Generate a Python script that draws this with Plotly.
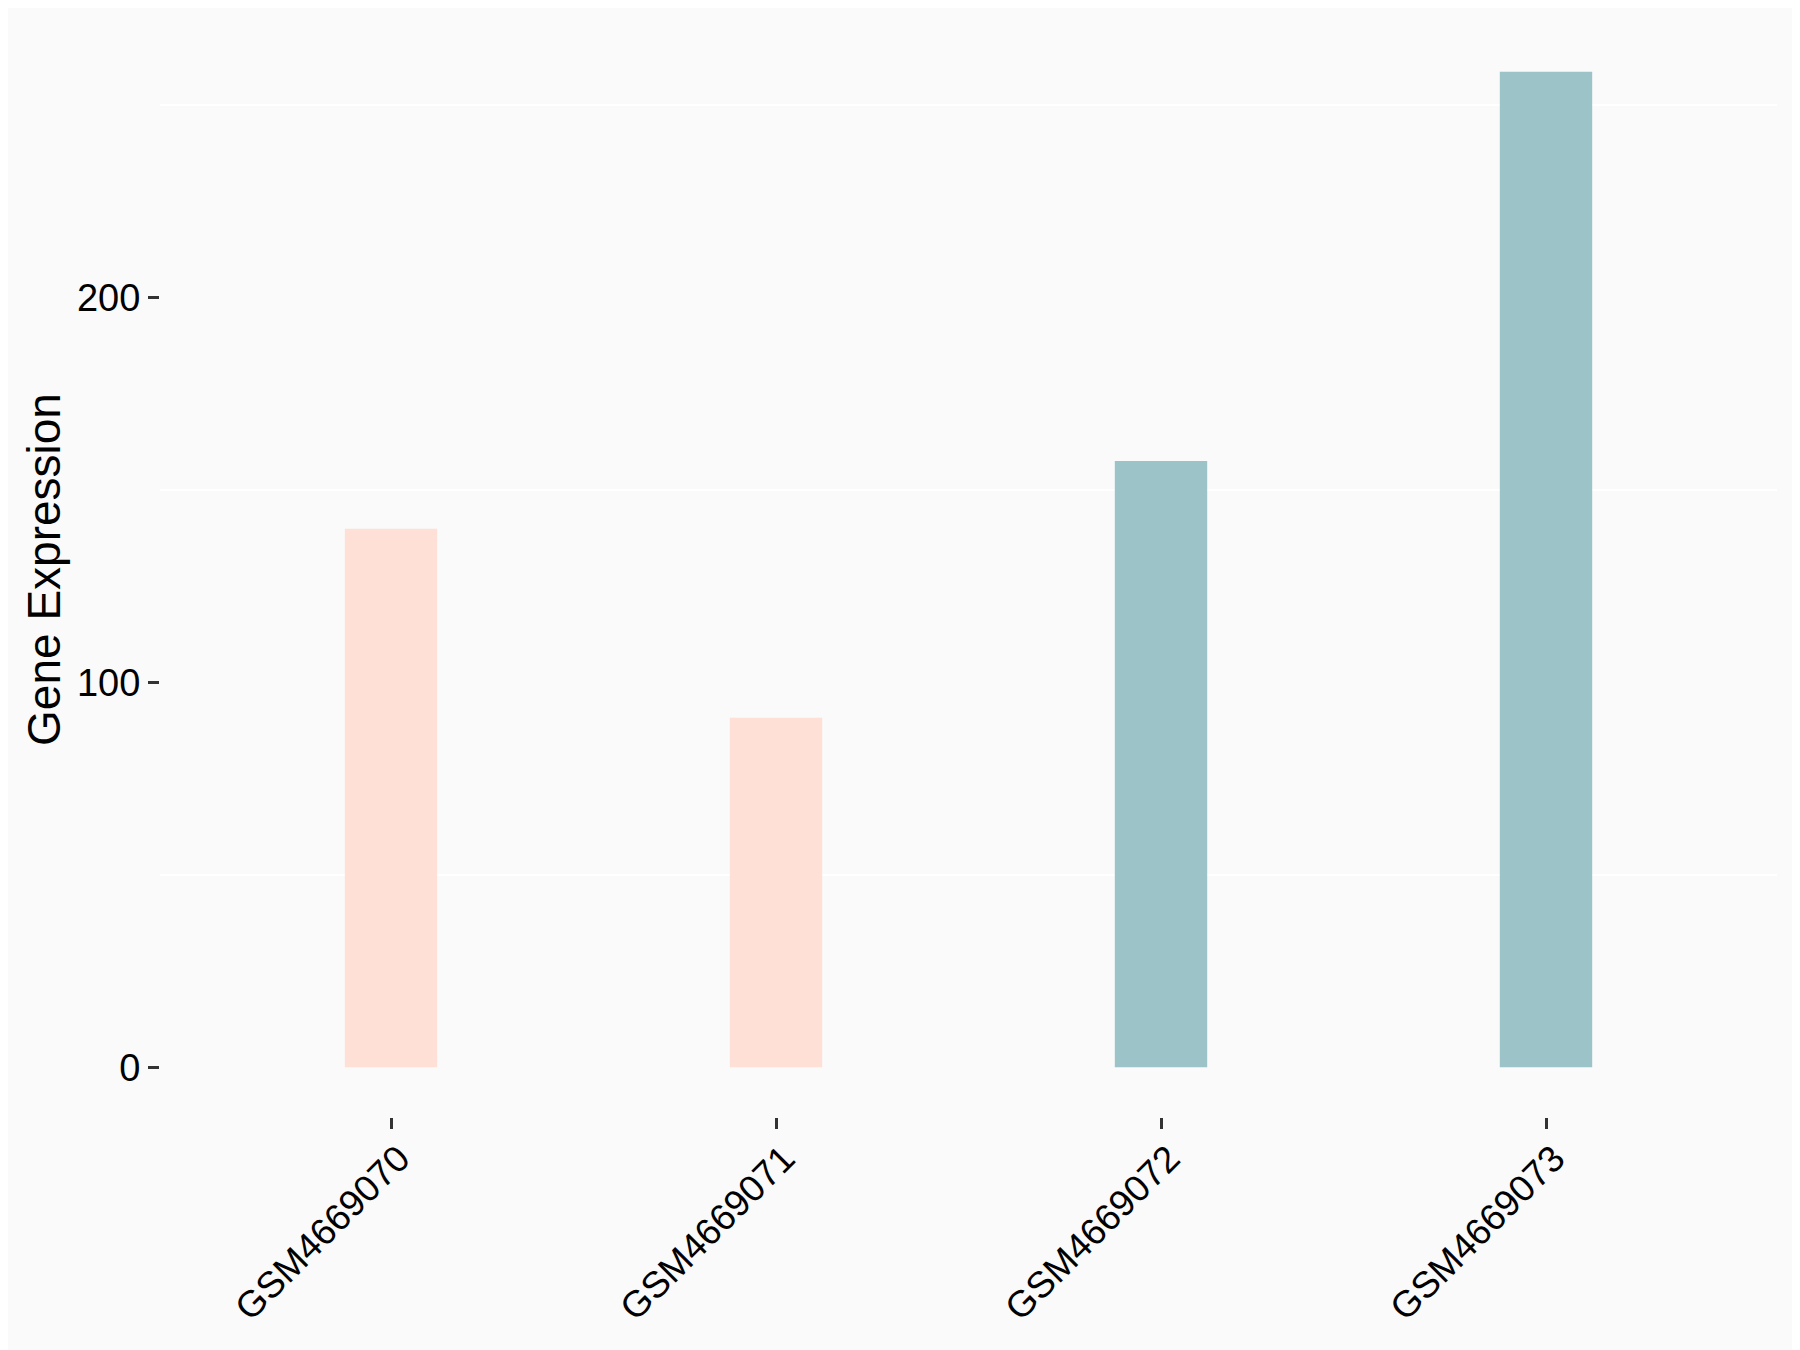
import plotly.graph_objects as go

samples = ["GSM4669070", "GSM4669071", "GSM4669072", "GSM4669073"]
expression = [139.9, 90.8, 157.5, 258.6]
bar_colors = ["#FEE0D6", "#FEE0D6", "#9CC4C8", "#9CC4C8"]
y_ticks = [0, 100, 200]
y_minor = [50, 150, 250]

fig = go.Figure()
fig.add_trace(go.Bar(
    x=samples, y=expression, marker=dict(color=bar_colors, line=dict(width=0)),
    width=0.24, showlegend=False,
))

fig.update_layout(
    width=1792, height=1342,
    paper_bgcolor="#FAFAFA", plot_bgcolor="#FAFAFA",
    margin=dict(l=152, r=23, t=14, b=233),
    font=dict(family="Liberation Sans, Arial, sans-serif", color="black", size=38),
)
fig.update_xaxes(
    range=[-0.6, 3.6], showgrid=False, zeroline=False, showline=False,
    ticks="outside", ticklen=11, tickwidth=2.5, tickcolor="#333333",
    tickangle=-45, tickfont=dict(size=37, color="black"),
    ticklabelstandoff=-7, ticklabelshift=8, automargin=False,
)
fig.update_yaxes(
    range=[-12.93, 271.5], tickvals=y_ticks, showgrid=False, zeroline=False, showline=False,
    ticks="outside", ticklen=11, tickwidth=2.5, tickcolor="#333333",
    tickfont=dict(size=38, color="black"),
    minor=dict(tickvals=y_minor, showgrid=True, gridcolor="white", gridwidth=2, ticks=""),
    title=dict(text="Gene Expression", font=dict(size=46, color="black"), standoff=1),
    automargin=False,
)
fig.write_html("out.html")
